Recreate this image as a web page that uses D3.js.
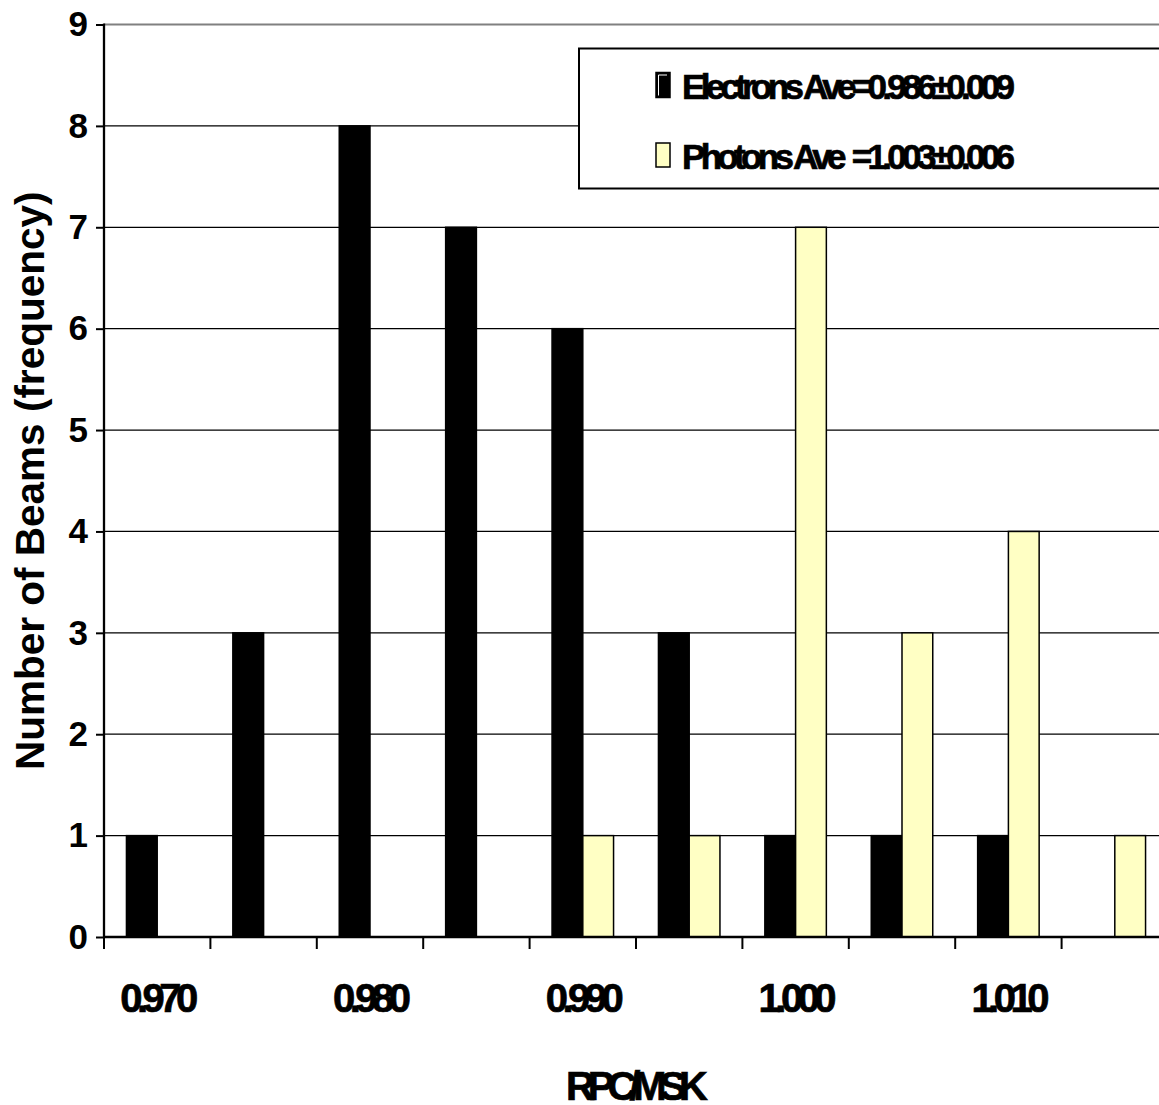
<html>
<head>
  <meta charset="UTF-8">
  <title>RPC/MSK histogram</title>
  <script src="https://d3js.org/d3.v7.min.js"></script>
  <style>
    body { margin: 0; background: white; }
    text { font-family: "Liberation Sans", Arial, sans-serif; font-weight: bold; fill: black; }
    .heavy { stroke: black; stroke-width: 0.7px; }
  </style>
</head>
<body>

    <svg id="chart" width="1159" height="1105"></svg>

    <script>

        // data
        const bins = ["0.970", "0.975", "0.980", "0.985", "0.990", "0.995", "1.000", "1.005", "1.010", "1.015"];
        const electrons = [1, 3, 8, 7, 6, 3, 1, 1, 1, 0];
        const photons = [0, 0, 0, 0, 1, 1, 7, 3, 4, 1];
        const yTicks = [0, 1, 2, 3, 4, 5, 6, 7, 8, 9];
        const shownLabels = ["0.970", "0.980", "0.990", "1.000", "1.010"];
        const seriesKeys = ["electrons", "photons"];
        const seriesLabels = ["Electrons Ave=0.986\u00b10.009", "Photons Ave\u00a0\u00a0=1.003\u00b10.006"];
        const seriesColors = ["#000000", "#ffffc4"];

        const svg = d3.select("#chart");
        const plotLeft = 104, plotBottom = 937, plotTop = 24.5;
        const step = 106.4;

        const x0 = d3.scaleBand()
                     .domain(bins)
                     .range([plotLeft, plotLeft + step * bins.length])
                     .padding(0);
        const x1 = d3.scaleBand()
                     .domain(seriesKeys)
                     .range([0, x0.bandwidth()])
                     .paddingInner(0)
                     .paddingOuter(0.73);
        const y = d3.scaleLinear().domain([0, 9]).range([plotBottom, plotTop]);
        const color = d3.scaleOrdinal().domain(seriesKeys).range(seriesColors);

        // gridlines
        svg.append("g").selectAll("line")
            .data(yTicks.filter(d => d > 0))
            .join("line")
            .attr("x1", plotLeft).attr("x2", 1159)
            .attr("y1", d => y(d)).attr("y2", d => y(d))
            .attr("stroke", d => d === 9 ? "#808080" : "black")
            .attr("stroke-width", d => d === 9 ? 2 : 1.2);

        // bars
        const table = bins.map((b, i) => ({ bin: b, electrons: electrons[i], photons: photons[i] }));
        svg.append("g").selectAll("g")
            .data(table)
            .join("g")
            .attr("transform", d => "translate(" + x0(d.bin) + ",0)")
            .selectAll("rect")
            .data(d => seriesKeys.map(k => ({ key: k, value: d[k] })).filter(e => e.value > 0))
            .join("rect")
            .attr("x", d => x1(d.key))
            .attr("width", x1.bandwidth())
            .attr("y", d => y(d.value))
            .attr("height", d => y(0) - y(d.value))
            .attr("fill", d => color(d.key))
            .attr("stroke", "black")
            .attr("stroke-width", 1.5);

        // y axis
        const yAxis = svg.append("g")
            .attr("transform", "translate(" + plotLeft + ",0)")
            .call(d3.axisLeft(y).tickValues(yTicks).tickFormat(d3.format("d")).tickSize(8).tickPadding(8));
        yAxis.select(".domain").attr("stroke-width", 2.3).attr("d", "M0," + (plotTop - 1) + "V" + (plotBottom + 1));
        yAxis.selectAll(".tick line").attr("stroke-width", 2);
        yAxis.selectAll(".tick text").style("font-size", "35px").style("font-family", "Liberation Sans, Arial, sans-serif");

        // x axis line and tick marks at bin boundaries
        svg.append("line")
            .attr("x1", plotLeft - 1).attr("x2", 1159)
            .attr("y1", plotBottom).attr("y2", plotBottom)
            .attr("stroke", "black").attr("stroke-width", 2.3);
        const bounds = bins.map(b => x0(b)).concat([x0.range()[1]]);
        svg.append("g").selectAll("line")
            .data(bounds)
            .join("line")
            .attr("x1", d => d).attr("x2", d => d)
            .attr("y1", plotBottom).attr("y2", plotBottom + 12)
            .attr("stroke", "black").attr("stroke-width", 2);

        // x tick labels (every other bin)
        svg.append("g").selectAll("text")
            .data(shownLabels)
            .join("text")
            .attr("class", "heavy")
            .attr("x", d => x0(d) + x0.bandwidth() / 2 + 2)
            .attr("y", 1011.5)
            .attr("text-anchor", "middle")
            .attr("textLength", 78)
            .attr("lengthAdjust", "spacing")
            .style("font-size", "40px")
            .text(d => d);

        // axis titles
        svg.append("text")
            .attr("transform", "translate(44," + ((plotTop + plotBottom) / 2) + ") rotate(-90)")
            .attr("text-anchor", "middle")
            .style("font-size", "40.5px")
            .text("Number of Beams (frequency)");

        svg.append("text")
            .attr("class", "heavy")
            .attr("x", 637)
            .attr("y", 1100)
            .attr("text-anchor", "middle")
            .attr("textLength", 142)
            .attr("lengthAdjust", "spacing")
            .style("font-size", "40px")
            .text("RPC/MSK");

        // legend
        const legend = svg.append("g");
        legend.append("rect")
            .attr("x", 579).attr("y", 48.5)
            .attr("width", 640).attr("height", 140)
            .attr("fill", "white")
            .attr("stroke", "black").attr("stroke-width", 2);

        const legendRows = [{ sy: 72.5, sh: 25, base: 98.5 }, { sy: 143, sh: 24, base: 169 }];
        seriesKeys.forEach((k, i) => {
            const r = legendRows[i];
            legend.append("rect")
                .attr("x", 656).attr("y", r.sy)
                .attr("width", 14).attr("height", r.sh)
                .attr("fill", color(k))
                .attr("stroke", "black").attr("stroke-width", 1.5);
            if (k === "electrons") {
                legend.append("path")
                    .attr("d", "M658.5," + (r.sy + r.sh - 2) + "V" + (r.sy + 2.5) + "H667")
                    .attr("fill", "none")
                    .attr("stroke", "white").attr("stroke-width", 1);
            }
            legend.append("text")
                .attr("class", "heavy")
                .attr("x", 682).attr("y", r.base)
                .attr("textLength", 333)
                .attr("lengthAdjust", "spacing")
                .style("font-size", "35px")
                .text(seriesLabels[i]);
        });

    </script>

</body>
</html>
